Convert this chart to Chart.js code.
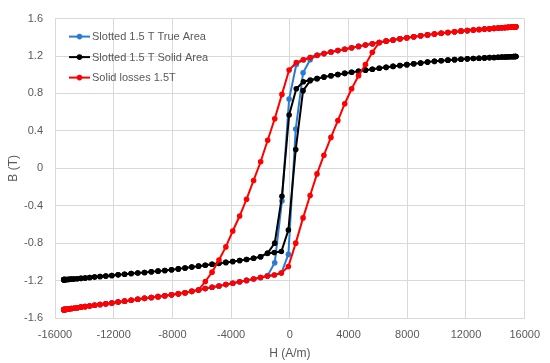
<!DOCTYPE html>
<html>
<head>
<meta charset="utf-8">
<script src="https://cdn.jsdelivr.net/npm/chart.js@4"></script>
<style>
  html, body { margin: 0; padding: 0; background: #ffffff; }
  #chart { display: block; }
</style>
</head>
<body>
<canvas id="chart" width="550" height="363"></canvas>
<script>
/* ── Data — B-H loops ── */

// H samples going down (positive -> negative saturation), A/m
const hDown = [
  15400, 15370, 15320, 15240, 15140, 15010, 14850, 14660, 14440, 14190,
  13910, 13600, 13260, 12890, 12500, 12090, 11660, 11220, 10770, 10310,
  9850, 9380, 8910, 8440, 7970, 7500, 7030, 6560, 6090, 5620,
  5150, 4680, 4210, 3740, 3270, 2800, 2330, 1860, 1390, 920,
  440, -50, -540, -1030, -1510, -1990, -2470, -2950, -3420, -3890,
  -4360, -4830, -5300, -5760, -6220, -6680, -7140, -7600, -8060, -8520,
  -8980, -9440, -9900, -10360, -10810, -11260, -11700, -12130, -12540, -12930,
  -13300, -13640, -13950, -14230, -14480, -14700, -14890, -15050, -15180, -15280,
  -15350, -15390, -15400,
];

// H samples going up (negative -> positive saturation), A/m
const hUp = [
  -15400, -15390, -15350, -15280, -15180, -15050, -14890, -14700, -14480, -14230,
  -13950, -13640, -13300, -12930, -12540, -12130, -11700, -11260, -10810, -10360,
  -9900, -9440, -8980, -8520, -8060, -7600, -7140, -6680, -6220, -5760,
  -5300, -4830, -4360, -3890, -3420, -2950, -2470, -2000, -1530, -1060,
  -580, -100, 400, 900, 1380, 1850, 2320, 2800, 3270, 3740,
  4210, 4680, 5150, 5620, 6090, 6560, 7030, 7500, 7970, 8440,
  8910, 9380, 9850, 10310, 10770, 11220, 11660, 12090, 12500, 12890,
  13260, 13600, 13910, 14190, 14440, 14660, 14850, 15010, 15140, 15240,
  15320, 15370, 15400,
];

// Slotted 1.5 T True Area (T)
const trueAreaDown = [
  1.512, 1.512, 1.511, 1.510, 1.509, 1.508, 1.506, 1.504, 1.502, 1.499,
  1.496, 1.492, 1.488, 1.483, 1.478, 1.472, 1.466, 1.459, 1.452, 1.444,
  1.435, 1.426, 1.416, 1.406, 1.395, 1.384, 1.372, 1.359, 1.345, 1.331,
  1.317, 1.303, 1.288, 1.273, 1.258, 1.243, 1.226, 1.208, 1.185, 1.160,
  1.110, 0.740, -0.350, -1.010, -1.145, -1.167, -1.183, -1.198, -1.213, -1.228,
  -1.243, -1.258, -1.272, -1.286, -1.300, -1.315, -1.330, -1.342, -1.352, -1.362,
  -1.372, -1.381, -1.390, -1.400, -1.410, -1.420, -1.430, -1.440, -1.448, -1.456,
  -1.464, -1.471, -1.478, -1.484, -1.490, -1.495, -1.499, -1.503, -1.506, -1.508,
  -1.510, -1.511, -1.511,
];
const trueAreaUp = [
  -1.511, -1.511, -1.510, -1.508, -1.506, -1.503, -1.499, -1.495, -1.490, -1.484,
  -1.478, -1.471, -1.464, -1.456, -1.448, -1.440, -1.430, -1.420, -1.410, -1.400,
  -1.390, -1.381, -1.372, -1.362, -1.352, -1.342, -1.330, -1.315, -1.300, -1.286,
  -1.272, -1.258, -1.243, -1.228, -1.213, -1.198, -1.183, -1.167, -1.152, -1.140,
  -1.120, -0.920, 0.420, 1.020, 1.160, 1.207, 1.226, 1.243, 1.258, 1.273,
  1.288, 1.303, 1.317, 1.331, 1.345, 1.359, 1.372, 1.384, 1.395, 1.406,
  1.416, 1.426, 1.435, 1.444, 1.452, 1.459, 1.466, 1.472, 1.478, 1.483,
  1.488, 1.492, 1.496, 1.499, 1.502, 1.504, 1.506, 1.508, 1.509, 1.510,
  1.511, 1.512, 1.512,
];

// Slotted 1.5 T Solid Area (T)
const solidAreaDown = [
  1.195, 1.195, 1.194, 1.194, 1.193, 1.192, 1.191, 1.190, 1.189, 1.187,
  1.185, 1.183, 1.180, 1.177, 1.174, 1.170, 1.166, 1.161, 1.156, 1.150,
  1.143, 1.135, 1.126, 1.117, 1.108, 1.099, 1.089, 1.079, 1.069, 1.059,
  1.049, 1.038, 1.027, 1.015, 1.002, 0.989, 0.975, 0.960, 0.943, 0.925,
  0.850, 0.570, -0.300, -0.800, -0.905, -0.945, -0.962, -0.975, -0.986, -0.996,
  -1.006, -1.016, -1.026, -1.036, -1.046, -1.056, -1.066, -1.075, -1.084, -1.092,
  -1.099, -1.106, -1.113, -1.119, -1.125, -1.132, -1.139, -1.145, -1.151, -1.157,
  -1.162, -1.167, -1.172, -1.176, -1.180, -1.183, -1.185, -1.187, -1.188, -1.189,
  -1.190, -1.190, -1.190,
];
const solidAreaUp = [
  -1.190, -1.190, -1.190, -1.189, -1.188, -1.187, -1.185, -1.183, -1.180, -1.176,
  -1.172, -1.167, -1.162, -1.157, -1.151, -1.145, -1.139, -1.132, -1.125, -1.119,
  -1.113, -1.106, -1.099, -1.092, -1.084, -1.075, -1.066, -1.056, -1.046, -1.036,
  -1.026, -1.016, -1.006, -0.996, -0.986, -0.975, -0.962, -0.945, -0.910, -0.900,
  -0.890, -0.660, 0.200, 0.830, 0.935, 0.958, 0.975, 0.989, 1.002, 1.015,
  1.027, 1.038, 1.049, 1.059, 1.069, 1.079, 1.089, 1.099, 1.108, 1.117,
  1.126, 1.135, 1.143, 1.150, 1.156, 1.161, 1.166, 1.170, 1.174, 1.177,
  1.180, 1.183, 1.185, 1.187, 1.189, 1.190, 1.191, 1.192, 1.193, 1.194,
  1.194, 1.195, 1.195,
];

// Solid losses 1.5T (T)
const solidLossDown = [
  1.512, 1.512, 1.511, 1.510, 1.509, 1.508, 1.506, 1.504, 1.502, 1.499,
  1.496, 1.492, 1.488, 1.483, 1.478, 1.472, 1.466, 1.459, 1.452, 1.444,
  1.435, 1.426, 1.416, 1.406, 1.395, 1.384, 1.372, 1.359, 1.345, 1.331,
  1.317, 1.303, 1.288, 1.273, 1.258, 1.243, 1.226, 1.208, 1.185, 1.160,
  1.130, 1.050, 0.790, 0.530, 0.300, 0.070, -0.130, -0.330, -0.510, -0.670,
  -0.840, -0.980, -1.110, -1.210, -1.300, -1.315, -1.330, -1.342, -1.352, -1.362,
  -1.372, -1.381, -1.390, -1.400, -1.410, -1.420, -1.430, -1.440, -1.448, -1.456,
  -1.464, -1.471, -1.478, -1.484, -1.490, -1.495, -1.499, -1.503, -1.506, -1.508,
  -1.510, -1.511, -1.511,
];
const solidLossUp = [
  -1.511, -1.511, -1.510, -1.508, -1.506, -1.503, -1.499, -1.495, -1.490, -1.484,
  -1.478, -1.471, -1.464, -1.456, -1.448, -1.440, -1.430, -1.420, -1.410, -1.400,
  -1.390, -1.381, -1.372, -1.362, -1.352, -1.342, -1.330, -1.315, -1.300, -1.286,
  -1.272, -1.258, -1.243, -1.228, -1.213, -1.198, -1.183, -1.167, -1.152, -1.140,
  -1.120, -1.050, -0.800, -0.530, -0.290, -0.060, 0.140, 0.330, 0.510, 0.690,
  0.850, 0.990, 1.110, 1.240, 1.345, 1.359, 1.372, 1.384, 1.395, 1.406,
  1.416, 1.426, 1.435, 1.444, 1.452, 1.459, 1.466, 1.472, 1.478, 1.483,
  1.488, 1.492, 1.496, 1.499, 1.502, 1.504, 1.506, 1.508, 1.509, 1.510,
  1.511, 1.512, 1.512,
];

const seriesLabels = [
  "Slotted 1.5 T True Area",
  "Slotted 1.5 T Solid Area",
  "Solid losses 1.5T",
];

const xTicks = { min: -16000, max: 16000, step: 4000 };
const yTicks = { min: -1.6, max: 1.6, step: 0.4 };


/* ── Styling ── */
const COLORS = {
  blue:  "#2b7bd3",
  black: "#000000",
  red:   "#ff0000",
  grid:  "#d9d9d9",
  text:  "#595959",
};
const FONT = "'Liberation Sans', Arial, sans-serif";


/* ── Helpers ── */
function toPoints(h, b) {
  return h.map((x, i) => ({ x, y: b[i] }));
}

function loop(hd, bd, hu, bu) {
  return toPoints(hd, bd).concat(toPoints(hu, bu));
}

function makeDataset(label, data, color, order) {
  return {
    label,
    data,
    order,
    borderColor: color,
    backgroundColor: color,
    borderWidth: 2,
    pointRadius: 2.8,
    pointBorderWidth: 0,
    pointHoverRadius: 2.8,
    showLine: true,
    tension: 0,
  };
}


/* ── Legend drawn inside the plot, Excel style ── */
const innerLegend = {
  id: "innerLegend",
  afterDraw(chart) {
    const ctx  = chart.ctx;
    const area = chart.chartArea;
    const rows = [18, 38.5, 59];

    ctx.save();
    ctx.font = "11px " + FONT;
    ctx.textBaseline = "middle";
    ctx.textAlign = "left";

    chart.data.datasets.forEach((ds, i) => {
      const y  = area.top + rows[i];
      const x0 = area.left + 14;
      const x1 = area.left + 35;

      ctx.strokeStyle = ds.borderColor;
      ctx.lineWidth = 2;
      ctx.beginPath();
      ctx.moveTo(x0, y);
      ctx.lineTo(x1, y);
      ctx.stroke();

      ctx.fillStyle = ds.borderColor;
      ctx.beginPath();
      ctx.arc((x0 + x1) / 2, y, 2.8, 0, Math.PI * 2);
      ctx.fill();

      ctx.fillStyle = COLORS.text;
      ctx.fillText(ds.label, x1 + 2, y + 0.5);
    });
    ctx.restore();
  },
};


/* ── Chart ── */
const ctx = document.getElementById("chart").getContext("2d");

new Chart(ctx, {
  type: "scatter",
  data: {
    datasets: [
      makeDataset(seriesLabels[0], loop(hDown, trueAreaDown, hUp, trueAreaUp), COLORS.blue, 2),
      makeDataset(seriesLabels[1], loop(hDown, solidAreaDown, hUp, solidAreaUp), COLORS.black, 1),
      makeDataset(seriesLabels[2], loop(hDown, solidLossDown, hUp, solidLossUp), COLORS.red, 0),
    ],
  },
  options: {
    responsive: false,
    animation: false,
    layout: { padding: { top: 7, right: 24, bottom: 0, left: 0 } },
    plugins: {
      legend:  { display: false },
      tooltip: { enabled: false },
    },
    scales: {
      x: {
        type: "linear",
        min: xTicks.min,
        max: xTicks.max,
        ticks: {
          stepSize: xTicks.step,
          color: COLORS.text,
          font: { family: FONT, size: 11 },
          padding: 10,
          maxRotation: 0,
          callback: v => String(v),
        },
        grid:   { color: COLORS.grid, drawTicks: false },
        border: { color: COLORS.grid },
        title: {
          display: true,
          text: "H (A/m)",
          color: COLORS.text,
          font: { family: FONT, size: 12 },
          padding: { top: 0, bottom: 2 },
        },
        afterFit: s => { s.height = 45; },
      },
      y: {
        type: "linear",
        min: yTicks.min,
        max: yTicks.max,
        ticks: {
          stepSize: yTicks.step,
          color: COLORS.text,
          font: { family: FONT, size: 11 },
          padding: 12,
          callback: v => (Math.abs(v) < 1e-9 ? "0" : v.toFixed(1)),
        },
        grid:   { color: COLORS.grid, drawTicks: false },
        border: { color: COLORS.grid },
        title: {
          display: true,
          text: "B (T)",
          color: COLORS.text,
          font: { family: FONT, size: 12 },
          padding: { top: 6, bottom: 0 },
        },
        afterFit: s => { s.width = 55; },
      },
    },
  },
  plugins: [innerLegend],
});
</script>
</body>
</html>
